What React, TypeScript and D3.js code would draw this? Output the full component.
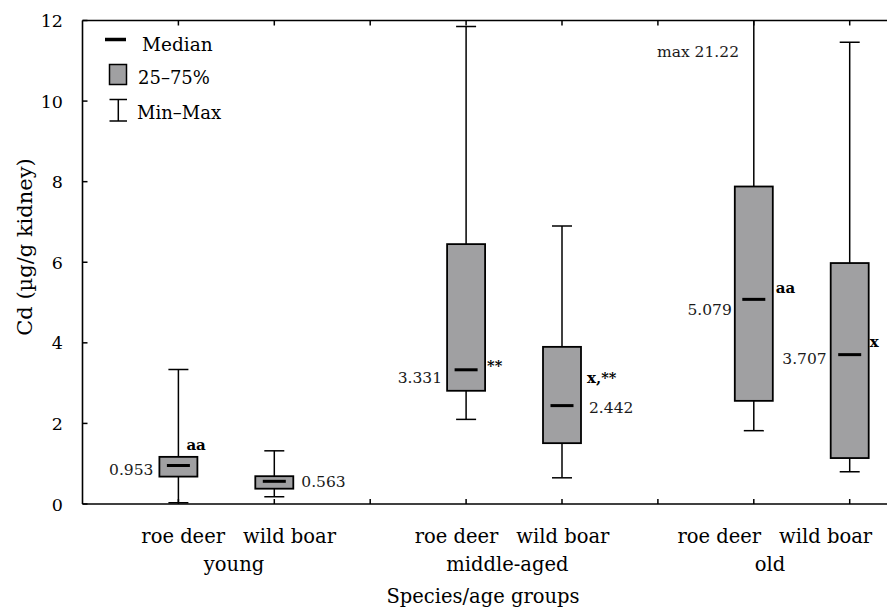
import React from "react";
import * as d3 from "d3";

// ---- data ----
const ageGroups = ["young", "middle-aged", "old"];
const species = ["roe deer", "wild boar"];
const boxSpecies = ["roe deer", "wild boar", "roe deer", "wild boar", "roe deer", "wild boar"];
const boxPos = [1, 2, 4, 5, 7, 8];
const mins = [0.03, 0.18, 2.1, 0.65, 1.82, 0.8];
const q1s = [0.68, 0.38, 2.81, 1.51, 2.56, 1.14];
const medians = [0.953, 0.563, 3.331, 2.442, 5.079, 3.707];
const q3s = [1.17, 0.69, 6.45, 3.9, 7.88, 5.98];
const maxs = [3.34, 1.32, 11.85, 6.9, 21.22, 11.46];
const medianLabels = ["0.953", "0.563", "3.331", "2.442", "5.079", "3.707"];
const sigLabels = ["aa", "", "**", "x,**", "aa", "x"];
const yTicks = [0, 2, 4, 6, 8, 10, 12];
const xTicks = [1, 2, 3, 4, 5, 6, 7, 8];
const maxNote = "max 21.22";
const legendLabels = ["Median", "25–75%", "Min–Max"];
const yTitle = "Cd (µg/g kidney)";
const xTitle = "Species/age groups";

const W = 887;
const H = 612;
const FONT = "'DejaVu Serif', serif";
const FILL = "#a0a0a2";
const INK = "#000";

export default function App() {
  const x = d3.scaleLinear().domain([0, 9]).range([82.5, 82.5 + 9 * 95.9]);
  const y = d3.scaleLinear().domain([0, 12]).range([504, 20.5]);
  const yc = (v: number) => y(Math.min(v, 12));
  const boxW = 38;
  const capW = 20;
  const medW = 23;

  const medLabelLayout = [
    { side: "left", dx: -6, dy: 9.5 },
    { side: "right", dx: 8, dy: 5.5 },
    { side: "left", dx: -5, dy: 13 },
    { side: "right", dx: 8, dy: 7.5 },
    { side: "left", dx: -3, dy: 15.5 },
    { side: "left", dx: -4, dy: 9.5 },
  ];
  const sigLayout = [
    { x: -11, useQ3: true, dy: -7 },
    { x: 0, useQ3: false, dy: 0 },
    { x: 2, useQ3: false, dy: 1 },
    { x: 6, useQ3: false, dy: -22.5 },
    { x: 3, useQ3: false, dy: -6 },
    { x: 1, useQ3: false, dy: -8 },
  ];
  const groupCenters = [1.58, 4.43, 7.17];

  const left = x(0);
  const right = x(9);

  return (
    <svg width={W} height={H} style={{ display: "block", position: "absolute", left: 0, top: 0 }} fontFamily={FONT}>
      <rect x={0} y={0} width={W} height={H} fill="#fff" />
      <defs>
        <clipPath id="plotclip">
          <rect x={left} y={y(12)} width={right - left} height={y(0) - y(12)} />
        </clipPath>
      </defs>

      <line x1={left} x2={right} y1={y(12)} y2={y(12)} stroke="#000" strokeWidth={1.6} />
      <line x1={left} x2={right} y1={y(0)} y2={y(0)} stroke="#000" strokeWidth={1.6} />
      <line x1={left} x2={left} y1={y(12)} y2={y(0)} stroke="#000" strokeWidth={1.6} />

      {yTicks.map((t) => (
        <g key={"yt" + t}>
          <line x1={left} x2={left + 5} y1={y(t)} y2={y(t)} stroke="#000" strokeWidth={1.5} />
          <text x={63} y={y(t) + 6.5} textAnchor="end" fontSize={17.5} fill={INK}>
            {t}
          </text>
        </g>
      ))}

      {xTicks.map((t) => (
        <g key={"xt" + t}>
          <line x1={x(t)} x2={x(t)} y1={y(0)} y2={y(0) - 5} stroke="#000" strokeWidth={1.5} />
          <line x1={x(t)} x2={x(t)} y1={y(12)} y2={y(12) + 5} stroke="#000" strokeWidth={1.5} />
        </g>
      ))}

      <g clipPath="url(#plotclip)">
        {boxPos.map((p, i) => {
          const cx = x(p);
          return (
            <g key={"b" + i}>
              <line x1={cx} x2={cx} y1={yc(maxs[i])} y2={y(q3s[i])} stroke="#000" strokeWidth={1.5} />
              <line x1={cx} x2={cx} y1={y(q1s[i])} y2={y(mins[i])} stroke="#000" strokeWidth={1.5} />
              {maxs[i] <= 12 && (
                <line x1={cx - capW / 2} x2={cx + capW / 2} y1={y(maxs[i])} y2={y(maxs[i])} stroke="#000" strokeWidth={1.5} />
              )}
              <line x1={cx - capW / 2} x2={cx + capW / 2} y1={y(mins[i])} y2={y(mins[i])} stroke="#000" strokeWidth={1.5} />
              <rect
                x={cx - boxW / 2}
                y={y(q3s[i])}
                width={boxW}
                height={y(q1s[i]) - y(q3s[i])}
                fill={FILL}
                stroke="#000"
                strokeWidth={1.8}
              />
              <line x1={cx - medW / 2} x2={cx + medW / 2} y1={y(medians[i])} y2={y(medians[i])} stroke="#000" strokeWidth={3} />
            </g>
          );
        })}
      </g>

      {boxPos.map((p, i) => {
        const L = medLabelLayout[i];
        const cx = x(p);
        const tx = L.side === "left" ? cx - boxW / 2 + L.dx : cx + boxW / 2 + L.dx;
        return (
          <text
            key={"ml" + i}
            x={tx}
            y={y(medians[i]) + L.dy}
            textAnchor={L.side === "left" ? "end" : "start"}
            fontSize={15.5}
            fill="#1a1a1a"
          >
            {medianLabels[i]}
          </text>
        );
      })}

      {boxPos.map((p, i) => {
        if (!sigLabels[i]) return null;
        const S = sigLayout[i];
        const cx = x(p);
        const tx = cx + boxW / 2 + S.x;
        const ty = S.useQ3 ? y(q3s[i]) + S.dy : y(medians[i]) + S.dy;
        const parts = sigLabels[i].split(",");
        return (
          <text key={"sl" + i} x={tx} y={ty} fontSize={15} fontWeight="bold" fill={INK}>
            {parts.map((pt, k) => (
              <tspan key={k}>
                {k > 0 ? "," : ""}
                {pt.startsWith("*") ? <tspan fontSize={14.5}>{pt}</tspan> : pt}
              </tspan>
            ))}
          </text>
        );
      })}

      <text x={739} y={56.5} textAnchor="end" fontSize={15.5} fill="#1a1a1a">
        {maxNote}
      </text>

      <g>
        <line x1={105} x2={126} y1={39.5} y2={39.5} stroke="#000" strokeWidth={3.5} />
        <text x={142} y={50.5} fontSize={18.5} fill={INK}>{legendLabels[0]}</text>
        <rect x={109.5} y={64.5} width={17} height={20} fill={FILL} stroke="#000" strokeWidth={1.5} />
        <text x={138} y={84} fontSize={18} fill={INK}>{legendLabels[1]}</text>
        <line x1={118.3} x2={118.3} y1={99.5} y2={121} stroke="#000" strokeWidth={1.5} />
        <line x1={109.5} x2={127} y1={99.5} y2={99.5} stroke="#000" strokeWidth={1.5} />
        <line x1={109.5} x2={127} y1={121} y2={121} stroke="#000" strokeWidth={1.5} />
        <text x={137} y={119} fontSize={18} fill={INK}>{legendLabels[2]}</text>
      </g>

      {ageGroups.map((g, gi) => {
        const c = x(groupCenters[gi]);
        return (
          <g key={"g" + gi}>
            <text x={c - 9} y={542.5} textAnchor="end" fontSize={19.5} fill={INK}>
              {boxSpecies[gi * 2]}
            </text>
            <text x={c + 9} y={542.5} textAnchor="start" fontSize={19.5} fill={INK}>
              {boxSpecies[gi * 2 + 1]}
            </text>
            <text x={c} y={571} textAnchor="middle" fontSize={19.5} fill={INK}>
              {g}
            </text>
          </g>
        );
      })}

      <text x={483} y={603} textAnchor="middle" fontSize={19.5} fill={INK}>
        {xTitle}
      </text>
      <text transform={`translate(32, 247) rotate(-90)`} textAnchor="middle" fontSize={21} fill={INK}>
        {yTitle}
      </text>
    </svg>
  );
}
